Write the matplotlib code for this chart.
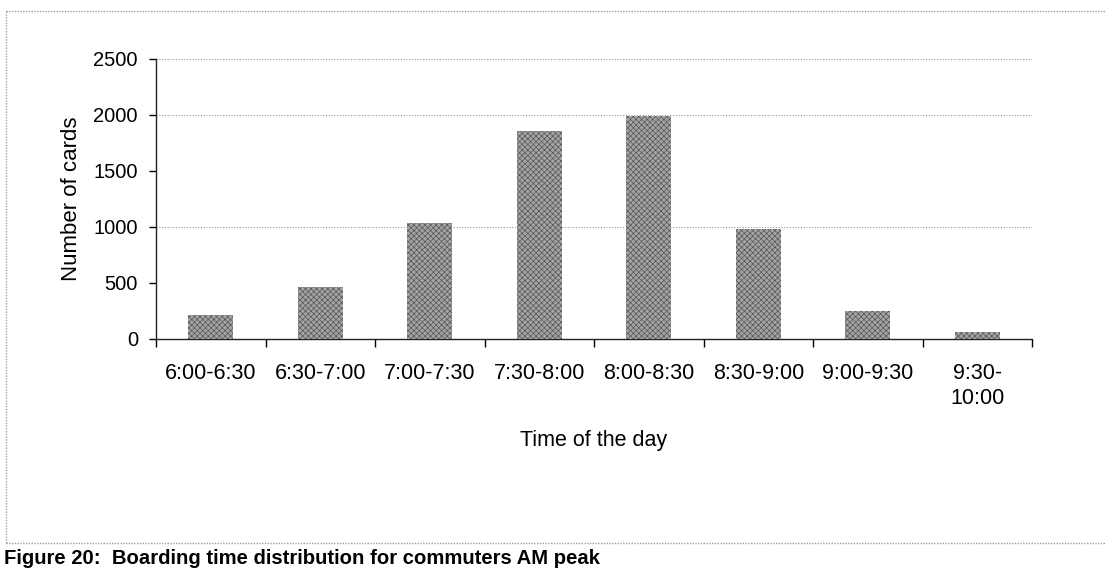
import numpy as np
import matplotlib
matplotlib.use("Agg")
import matplotlib.pyplot as plt
from matplotlib.lines import Line2D

plt.rcParams['font.family'] = ['Liberation Sans', 'DejaVu Sans']
plt.rcParams['hatch.linewidth'] = 0.5

# данные
periods = ["6:00-6:30", "6:30-7:00", "7:00-7:30", "7:30-8:00",
           "8:00-8:30", "8:30-9:00", "9:00-9:30", "9:30-\n10:00"]
cards = [210, 460, 1040, 1855, 1995, 980, 250, 60]
yticks = [0, 500, 1000, 1500, 2000, 2500]
grid_at = [1000, 2000, 2500]  # на скане видны только эти

fig = plt.figure(figsize=(11.05, 5.71), dpi=100)
ax = fig.add_axes([156/1105, 1-339/571, (1032-156)/1105, (339-59)/571])

x = np.arange(len(periods))
ax.bar(x, cards, width=0.41, color='#a4a4a4', edgecolor='#555555',
       hatch='xxxxxx', linewidth=0, zorder=3)

ax.set_xlim(-0.5, len(periods) - 0.5)
ax.set_ylim(0, 2500)
ax.set_yticks(yticks)
for g in grid_at:
    ax.axhline(g, color='#9a9a9a', lw=0.8, ls=(0, (1, 1.5)), zorder=1)

ax.set_xticks(x)
ax.set_xticklabels(periods, fontsize=15.5, linespacing=1.3)
ax.set_xticks(np.arange(len(periods) + 1) - 0.5, minor=True)
ax.tick_params(axis='x', which='major', length=0, pad=17)
ax.tick_params(axis='x', which='minor', length=6, direction='out', width=1)
ax.tick_params(axis='y', labelsize=14.5, length=5, width=1, pad=8)

for s in ['top', 'right']:
    ax.spines[s].set_visible(False)
for s in ['left', 'bottom']:
    ax.spines[s].set_linewidth(1)
    ax.spines[s].set_color('#222222')

ax.set_ylabel("Number of cards", fontsize=16, labelpad=8)
ax.set_xlabel("Time of the day", fontsize=15.5, labelpad=15)

# рамка вокруг диаграммы
brd = dict(color='#a0a0a0', lw=1, ls=(0, (1, 1)), transform=fig.transFigure)
fig.add_artist(Line2D([6/1105, 1], [1-11/571, 1-11/571], **brd))
fig.add_artist(Line2D([6/1105, 6/1105], [1-11/571, 1-543/571], **brd))
fig.add_artist(Line2D([6/1105, 1], [1-543/571, 1-543/571], **brd))

fig.text(4/1105, 1-559/571, "Figure 20:  Boarding time distribution for commuters AM peak",
         fontsize=14.6, fontweight='bold', va='center', ha='left')

fig.savefig("out.png", dpi=100)
